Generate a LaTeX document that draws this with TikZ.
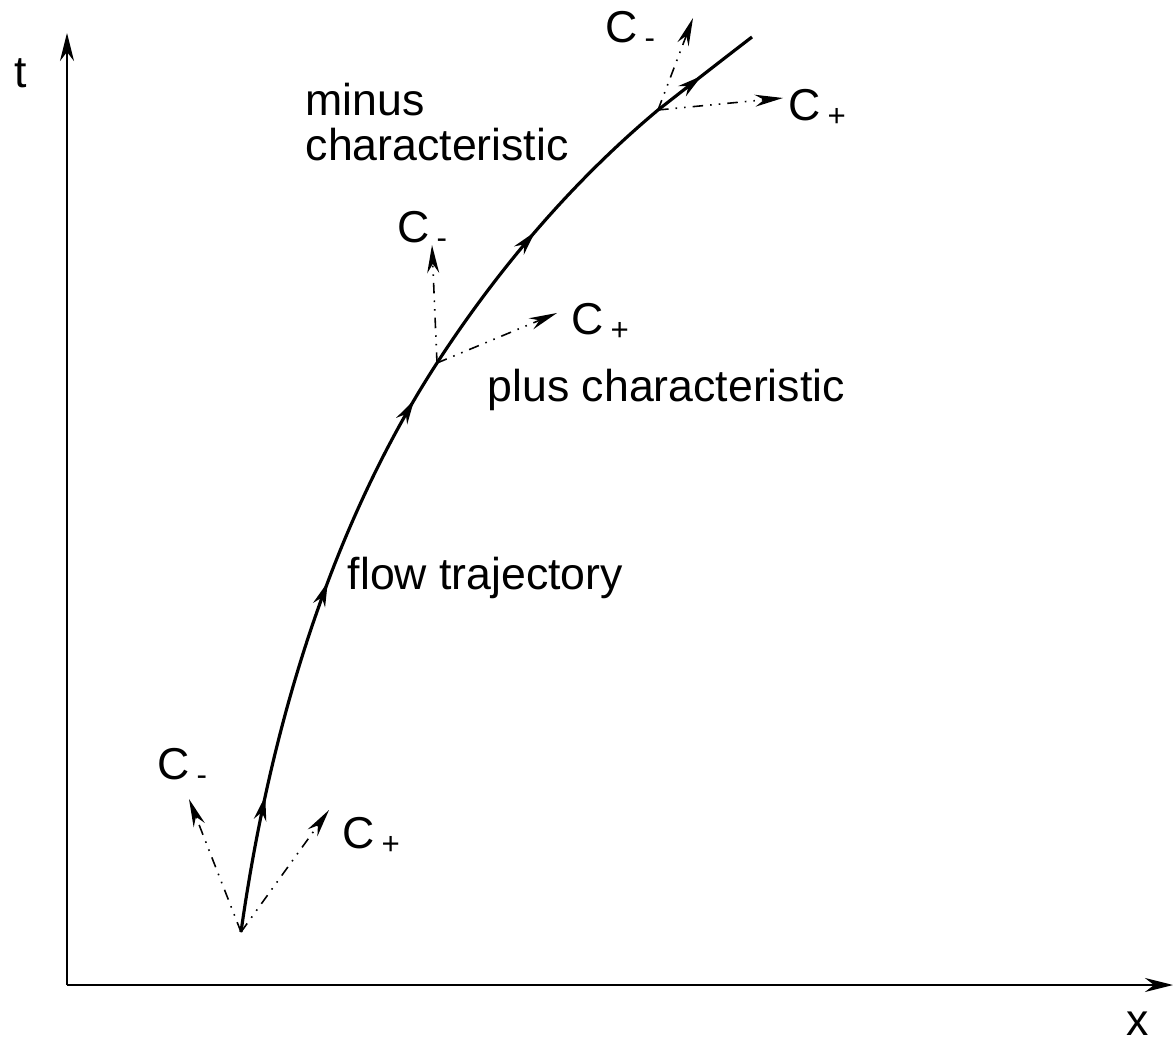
\documentclass[tikz,border=0pt]{standalone}
\usepackage{fontspec}
\setmainfont{Liberation Sans}
\usetikzlibrary{arrows.meta,decorations.markings}

\newcommand{\charlab}[1]{C\kern2pt\textsubscript{#1}}

\begin{document}
\begin{tikzpicture}[x=0.1mm, y=-0.1mm,
  flowtip/.tip={Stealth[length=7pt,width=3.6pt]},
  axis/.style={line width=0.6pt, -{Stealth[length=8pt,width=4pt]}},
  flow/.style={line width=0.9pt, postaction={decorate},
               decoration={markings,
                 mark=at position 0.13 with {\arrow{flowtip}},
                 mark=at position 0.34 with {\arrow{flowtip}},
                 mark=at position 0.53 with {\arrow{flowtip}},
                 mark=at position 0.725 with {\arrow{flowtip}},
                 mark=at position 0.94 with {\arrow{flowtip}}}},
  charline/.style={line width=0.45pt, dash dot dot, -{Stealth[length=8pt,width=3.4pt]}},
  lbl/.style={font=\fontsize{12.7}{12.7}\selectfont, inner sep=0pt}
]
  \useasboundingbox (0,0) rectangle (1174,1042);

  % ===== Axes =====
  \coordinate (o) at (67,985);
  \coordinate (tend) at (67,33);
  \coordinate (xend) at (1173,985);
  \draw[axis] (o) -- (tend);
  \draw[axis] (o) -- (xend);
  \node[lbl] (tlab) at (21,73) {t};
  \node[lbl] (xlab) at (1138,1024) {x};

  % ===== Points on the trajectory =====
  \coordinate (p1) at (241,932);
  \coordinate (p2) at (437,363);
  \coordinate (p3) at (658,110);
  \coordinate (pend) at (752,37);

  % ===== Flow trajectory =====
  \draw[flow] (p1) .. controls (269,734) and (328,531) .. (p2)
              .. controls (498,269) and (572,182) .. (p3)
              .. controls (690,85) and (722,60) .. (pend);

  % ===== Characteristics at p1 =====
  \coordinate (m1) at (189,799);
  \coordinate (q1) at (329,810);
  \draw[charline] (p1) -- (m1);
  \draw[charline] (p1) -- (q1);
  \node[lbl] (cm1) at (183,767) {\charlab{-}};
  \node[lbl] (cp1) at (372,836) {\charlab{+}};

  % ===== Characteristics at p2 =====
  \coordinate (m2) at (432,245);
  \coordinate (q2) at (557,313);
  \draw[charline] (p2) -- (m2);
  \draw[charline] (p2) -- (q2);
  \node[lbl] (cm2) at (423,230) {\charlab{-}};
  \node[lbl] (cp2) at (601,322) {\charlab{+}};

  % ===== Characteristics at p3 =====
  \coordinate (m3) at (693,18);
  \coordinate (q3) at (783,98);
  \draw[charline] (p3) -- (m3);
  \draw[charline] (p3) -- (q3);
  \node[lbl] (cm3) at (631,30) {\charlab{-}};
  \node[lbl] (cp3) at (818,108) {\charlab{+}};

  % ===== Text labels =====
  \node[lbl, align=left, anchor=west] (minus) at (305,122) {minus\\characteristic};
  \node[lbl, anchor=west] (plus) at (487,390) {plus characteristic};
  \node[lbl, anchor=west] (traj) at (347,578) {flow trajectory};
\end{tikzpicture}
\end{document}
